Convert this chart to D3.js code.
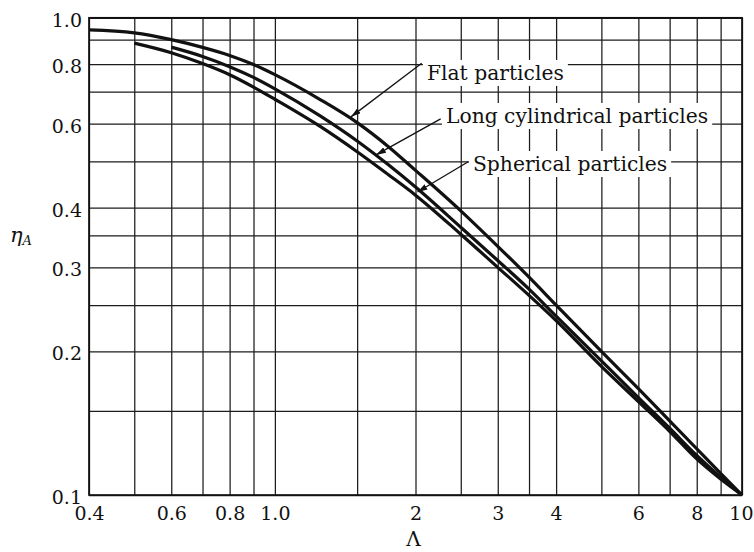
<!DOCTYPE html>
<html>
<head>
<meta charset="utf-8">
<script src="https://cdn.jsdelivr.net/npm/d3@7"></script>
<style>
  body { margin: 0; background: #fff; }
  svg { display: block; }
</style>
</head>
<body>
<svg id="chart" width="754" height="552"></svg>
<script>
// Effectiveness factor eta_A against the modulus Lambda for three particle shapes
const lambdaFlat = [0.4, 0.5, 0.6, 0.7, 0.8, 0.9, 1.0, 1.25, 1.5, 1.75, 2, 2.5, 3, 3.5, 4, 5, 6, 7, 8, 9, 10];
const etaFlat    = [0.943, 0.930, 0.900, 0.867, 0.834, 0.798, 0.760, 0.674, 0.603, 0.537, 0.479, 0.394, 0.332, 0.286, 0.250, 0.200, 0.167, 0.143, 0.125, 0.111, 0.100];

const lambdaCyl = [0.6, 0.7, 0.8, 0.9, 1.0, 1.25, 1.5, 1.75, 2, 2.5, 3, 3.5, 4, 5, 6, 7, 8, 9, 10];
const etaCyl    = [0.868, 0.830, 0.790, 0.750, 0.710, 0.623, 0.552, 0.492, 0.442, 0.364, 0.310, 0.270, 0.237, 0.191, 0.160, 0.138, 0.121, 0.109, 0.100];

const lambdaSph = [0.5, 0.6, 0.7, 0.8, 0.9, 1.0, 1.25, 1.5, 1.75, 2, 2.5, 3, 3.5, 4, 5, 6, 7, 8, 9, 10];
const etaSph    = [0.885, 0.845, 0.802, 0.760, 0.716, 0.675, 0.592, 0.524, 0.469, 0.425, 0.352, 0.300, 0.262, 0.232, 0.186, 0.157, 0.136, 0.119, 0.108, 0.100];

// Grid and tick values
const xGrid = [0.4, 0.5, 0.6, 0.7, 0.8, 0.9, 1, 1.5, 2, 2.5, 3, 3.5, 4, 5, 6, 7, 8, 9, 10];
const yGrid = [0.1, 0.15, 0.2, 0.25, 0.3, 0.35, 0.4, 0.5, 0.6, 0.7, 0.8, 0.9, 1.0];
const xTicks = [0.4, 0.6, 0.8, 1, 2, 3, 4, 6, 8, 10];
const xTickLabels = ["0.4", "0.6", "0.8", "1.0", "2", "3", "4", "6", "8", "10"];
const yTicks = [0.1, 0.2, 0.3, 0.4, 0.6, 0.8, 1.0];
const yTickLabels = ["0.1", "0.2", "0.3", "0.4", "0.6", "0.8", "1.0"];

// Curve labels with their leader arrows, in data coordinates (Lambda, eta)
const labelNames = ["Flat particles", "Long cylindrical particles", "Spherical particles"];
const labelAt   = [[2.116, 0.741], [2.324, 0.602], [2.655, 0.4775]];
const arrowFrom = [[2.062, 0.803], [2.264, 0.614], [2.594, 0.4994]];
const arrowTo   = [[1.455, 0.620], [1.646, 0.516], [2.02, 0.4315]];

const plotLeft = 89, plotRight = 742, plotTop = 17.8, plotBottom = 495;
const serif = "'DejaVu Serif', serif";
const ink = "#111";

const svg = d3.select("#chart");
const x = d3.scaleLog().domain([0.4, 10]).range([plotLeft, plotRight]);
const y = d3.scaleLog().domain([0.1, 1]).range([plotBottom, plotTop]);

// Grid lines
const gx = svg.append("g")
  .attr("transform", `translate(0,${plotBottom})`)
  .call(d3.axisBottom(x).tickValues(xGrid).tickSize(-(plotBottom - plotTop)).tickFormat(""));
gx.select(".domain").remove();
gx.selectAll("line").attr("stroke", "#1c1c1c").attr("stroke-width", 1.25);

const gy = svg.append("g")
  .attr("transform", `translate(${plotLeft},0)`)
  .call(d3.axisLeft(y).tickValues(yGrid).tickSize(-(plotRight - plotLeft)).tickFormat(""));
gy.select(".domain").remove();
gy.selectAll("line").attr("stroke", "#1c1c1c").attr("stroke-width", 1.25);

// Plot frame
svg.append("rect")
  .attr("x", plotLeft).attr("y", plotTop)
  .attr("width", plotRight - plotLeft).attr("height", plotBottom - plotTop)
  .attr("fill", "none").attr("stroke", ink).attr("stroke-width", 1.7);

// Tick labels
const ax = svg.append("g")
  .attr("transform", `translate(0,${plotBottom})`)
  .call(d3.axisBottom(x).tickValues(xTicks).tickSize(0)
    .tickFormat((d, i) => xTickLabels[i]));
ax.select(".domain").remove();
ax.selectAll("text")
  .attr("y", 25).attr("dy", null)
  .attr("font-family", serif).attr("font-size", 19).attr("fill", ink);
// the last label sits against the right edge
ax.selectAll("text").filter(d => d === 10)
  .attr("text-anchor", "end").attr("x", 11);

const ay = svg.append("g")
  .attr("transform", `translate(${plotLeft},0)`)
  .call(d3.axisLeft(y).tickValues(yTicks).tickSize(0)
    .tickFormat((d, i) => yTickLabels[i]));
ay.select(".domain").remove();
ay.selectAll("text")
  .attr("x", -7).attr("dy", 8.5)
  .attr("font-family", serif).attr("font-size", 19).attr("fill", ink);

// Axis titles
svg.append("text")
  .attr("x", x(1.98)).attr("y", 546)
  .attr("text-anchor", "middle")
  .attr("font-family", serif).attr("font-size", 20).attr("fill", ink)
  .text("Λ");

const etaLabel = svg.append("text")
  .attr("x", 10).attr("y", 242)
  .attr("font-family", serif).attr("font-size", 21).attr("fill", ink)
  .attr("font-style", "italic");
etaLabel.append("tspan").text("η");
etaLabel.append("tspan").attr("font-size", 13).attr("dy", 3).text("A");

// Curve labels on white boxes
const labels = svg.append("g");
labelNames.forEach((name, i) => {
  const g = labels.append("g");
  const rect = g.append("rect").attr("fill", "#fff");
  const t = g.append("text")
    .attr("x", x(labelAt[i][0])).attr("y", y(labelAt[i][1]))
    .attr("font-family", serif).attr("font-size", 20.3).attr("fill", ink)
    .text(name);
  const b = t.node().getBBox();
  rect.attr("x", b.x - 4).attr("y", b.y - 1)
    .attr("width", b.width + 8).attr("height", b.height + 2);
});

// Curves
const line = d3.line()
  .x(d => x(d[0]))
  .y(d => y(d[1]))
  .curve(d3.curveMonotoneX);

const series = [
  d3.zip(lambdaFlat, etaFlat),
  d3.zip(lambdaCyl, etaCyl),
  d3.zip(lambdaSph, etaSph)
];
svg.append("g").selectAll("path")
  .data(series)
  .join("path")
  .attr("d", line)
  .attr("fill", "none")
  .attr("stroke", ink)
  .attr("stroke-width", 3.2)
  .attr("stroke-linejoin", "round");

// Leader arrows
svg.append("defs").append("marker")
  .attr("id", "head")
  .attr("markerUnits", "userSpaceOnUse")
  .attr("viewBox", "0 0 10 6")
  .attr("refX", 10).attr("refY", 3)
  .attr("markerWidth", 10).attr("markerHeight", 6)
  .attr("orient", "auto")
  .append("path")
  .attr("d", "M0,0 L10,3 L0,6 Z")
  .attr("fill", ink);

svg.append("g").selectAll("line")
  .data(d3.zip(arrowFrom, arrowTo))
  .join("line")
  .attr("x1", d => x(d[0][0])).attr("y1", d => y(d[0][1]))
  .attr("x2", d => x(d[1][0])).attr("y2", d => y(d[1][1]))
  .attr("stroke", ink).attr("stroke-width", 1.3)
  .attr("marker-end", "url(#head)");
</script>
</body>
</html>
